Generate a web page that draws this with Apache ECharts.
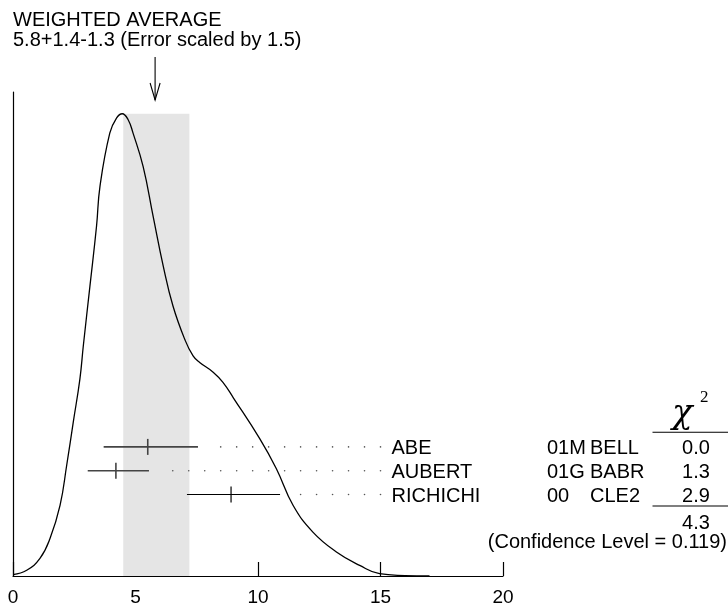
<!DOCTYPE html>
<html>
<head>
<meta charset="utf-8">
<script src="https://cdn.jsdelivr.net/npm/echarts@6/dist/echarts.min.js"></script>
<style>html,body{margin:0;padding:0;background:#fff;}#c{width:728px;height:607px;}</style>
</head>
<body>
<div id="c"></div>
<script>
// ---- data ----
const curveX = [0, 0.56, 1.10, 1.51, 1.92, 2.19, 2.46, 2.73, 2.87, 3.14, 3.41, 3.55, 3.95, 4.23, 4.46, 4.70, 4.90, 5.31, 5.72, 6.13, 6.53, 7.01, 7.35, 7.62, 8.17, 8.57, 9.0, 10.07, 10.75, 11.43, 12.24, 13.2, 14.15, 14.96, 16.0, 17.0];
const curveY = [0.003, 0.0125, 0.038, 0.081, 0.153, 0.239, 0.333, 0.426, 0.498, 0.627, 0.757, 0.843, 0.958, 0.991, 1.0, 0.987, 0.958, 0.886, 0.778, 0.671, 0.584, 0.512, 0.476, 0.462, 0.441, 0.419, 0.385, 0.297, 0.232, 0.153, 0.095, 0.052, 0.023, 0.005, 0.001, 0];
const names = ['ABE', 'AUBERT', 'RICHICHI'];
const values = [5.5, 4.2, 8.9];
const errMinus = [1.8, 1.15, 1.8];
const errPlus = [2.05, 1.35, 2.0];
const docIds = ['01M', '01G', '00'];
const experiments = ['BELL', 'BABR', 'CLE2'];
const chi2 = ['0.0', '1.3', '2.9'];
const chi2Total = '4.3';
const confLevel = '0.119';
const avgValue = 5.8, avgPlus = 1.4, avgMinus = 1.3, errScale = 1.5;
const xTicks = [0, 5, 10, 15, 20];

const FONT = "'Liberation Sans', Arial, Helvetica, sans-serif";
const barColors = ['#444', '#444', '#000'];
const barWidths = [1.6, 1.6, 1.2];

const chart = echarts.init(document.getElementById('c'));
const curveData = curveX.map((x, i) => [x, curveY[i]]);
const rowData = names.map((n, i) => [i, values[i], values[i] - errMinus[i], values[i] + errPlus[i]]);

chart.setOption({
  animation: false,
  backgroundColor: '#fff',
  grid: [
    { left: 13, right: 225, top: 92, bottom: 29.5 },
    { left: 13, right: 225, top: 435, height: 71.4 }
  ],
  xAxis: [
    {
      gridIndex: 0, type: 'value', min: xTicks[0], max: xTicks[xTicks.length - 1], interval: 5,
      axisLine: { show: true, lineStyle: { color: '#000', width: 1.2 } },
      axisTick: { show: true, inside: true, length: 14, lineStyle: { color: '#000', width: 1.2 } },
      axisLabel: { color: '#000', fontSize: 19, fontFamily: FONT, margin: 12 },
      splitLine: { show: false }
    },
    { gridIndex: 1, type: 'value', min: 0, max: 20, show: false }
  ],
  yAxis: [
    {
      gridIndex: 0, type: 'value', min: 0, max: 1.047,
      axisLine: { show: true, lineStyle: { color: '#000', width: 1.2 } },
      axisTick: { show: false }, axisLabel: { show: false }, splitLine: { show: false }
    },
    { gridIndex: 1, type: 'category', data: names, inverse: true, show: false }
  ],
  series: [
    {
      type: 'line', xAxisIndex: 0, yAxisIndex: 0, data: curveData,
      smooth: 0.45, symbol: 'none',
      lineStyle: { color: '#000', width: 1.3 },
      z: 3,
      markArea: {
        silent: true,
        itemStyle: { color: '#e5e5e5' },
        data: [[{ xAxis: avgValue - avgMinus, yAxis: 0 }, { xAxis: avgValue + avgPlus, yAxis: 1.0 }]]
      }
    },
    {
      type: 'custom', xAxisIndex: 1, yAxisIndex: 1, data: rowData, z: 5,
      encode: { x: [1, 2, 3], y: 0 },
      renderItem: function (params, api) {
        const i = api.value(0);
        const v = api.value(1), lo = api.value(2), hi = api.value(3);
        const c = api.coord([v, i]);
        const l = api.coord([lo, i]);
        const r = api.coord([hi, i]);
        const y = c[1];
        const col = barColors[i], w = barWidths[i];
        const children = [
          { type: 'line', shape: { x1: l[0], y1: y, x2: r[0], y2: y }, style: { stroke: col, lineWidth: w } },
          { type: 'line', shape: { x1: c[0], y1: y - 8, x2: c[0], y2: y + 8 }, style: { stroke: col, lineWidth: w } }
        ];
        const step = 16 / 24.53;
        for (let x = 15; x >= hi + 0.6; x -= step) {
          const p = api.coord([x, i]);
          children.push({ type: 'circle', shape: { cx: p[0], cy: y, r: 0.8 }, style: { fill: '#555' } });
        }
        const endX = api.coord([15, i])[0];
        const ty = y + 2;
        const ts = { font: '20px ' + FONT, fill: '#000', verticalAlign: 'middle' };
        children.push({ type: 'text', style: Object.assign({ text: names[i], x: endX + 11, y: ty, align: 'left' }, ts) });
        children.push({ type: 'text', style: Object.assign({ text: docIds[i], x: 547, y: ty, align: 'left' }, ts) });
        children.push({ type: 'text', style: Object.assign({ text: experiments[i], x: 590, y: ty, align: 'left' }, ts) });
        children.push({ type: 'text', style: Object.assign({ text: chi2[i], x: 696, y: ty, align: 'center' }, ts) });
        return { type: 'group', children: children };
      },
      clip: false
    }
  ]
});

// annotations positioned through the axis scale
const ax = chart.convertToPixel({ xAxisIndex: 0 }, avgValue);
const txt = (text, x, y, align, size, extra) => ({
  type: 'text', x: x, y: y, silent: true,
  style: Object.assign({ text: text, font: size + 'px ' + FONT, fill: '#000', align: align, verticalAlign: 'middle' }, extra || {})
});
chart.setOption({
  graphic: [
    txt('WEIGHTED AVERAGE', 13, 20.5, 'left', 20),
    txt(avgValue.toFixed(1) + '+' + avgPlus.toFixed(1) + '-' + avgMinus.toFixed(1) + ' (Error scaled by ' + errScale + ')', 13, 40.5, 'left', 20),
    { type: 'line', silent: true, shape: { x1: ax, y1: 57, x2: ax, y2: 100 }, style: { stroke: '#000', lineWidth: 1.1 } },
    { type: 'polyline', silent: true, shape: { points: [[ax - 5, 83], [ax, 100], [ax + 5, 83]] }, style: { stroke: '#000', lineWidth: 1.1, fill: null } },
    { type: 'line', silent: true, shape: { x1: 652.5, y1: 432.3, x2: 728, y2: 432.3 }, style: { stroke: '#000', lineWidth: 1.1 } },
    { type: 'line', silent: true, shape: { x1: 652.5, y1: 506, x2: 728, y2: 506 }, style: { stroke: '#000', lineWidth: 1.1 } },
    { type: 'text', x: 672, y: 414, silent: true, style: { text: 'χ', font: 'italic 34px "DejaVu Serif", "Liberation Serif", serif', fill: '#000', align: 'left', verticalAlign: 'middle' } },
    { type: 'text', x: 700, y: 398, silent: true, style: { text: '2', font: '17px "Liberation Serif", "DejaVu Serif", serif', fill: '#000', align: 'left', verticalAlign: 'middle' } },
    txt(chi2Total, 696, 523.5, 'center', 20),
    txt('(Confidence Level = ' + confLevel + ')', 727, 542.5, 'right', 20)
  ]
});
</script>
</body>
</html>
